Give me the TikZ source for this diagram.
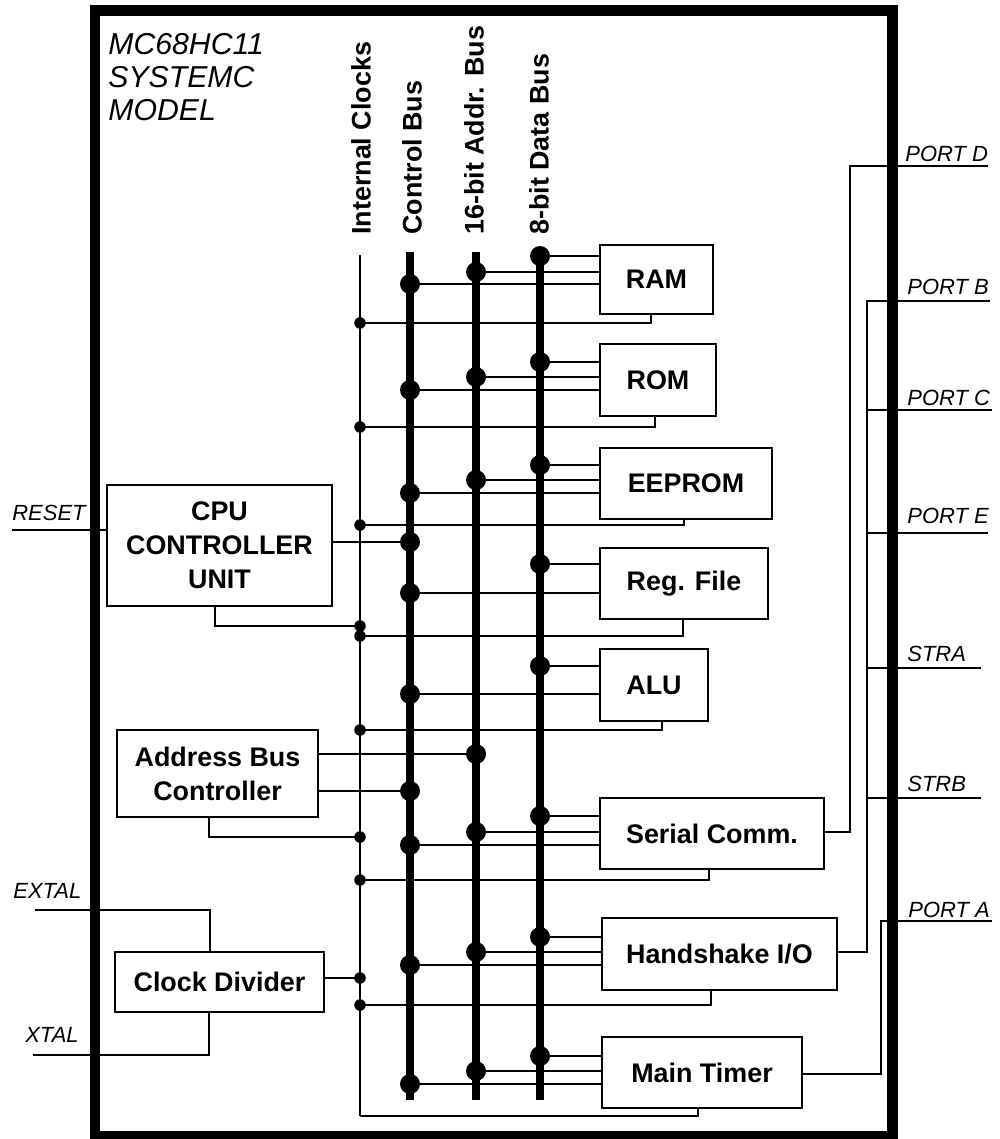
\documentclass[tikz,border=0pt]{standalone}
\usepackage{fontspec}
\setmainfont{Liberation Sans}
\begin{document}
\begin{tikzpicture}[x=0.02cm,y=-0.02cm,
  conn/.style={line width=0.85pt},
  wire/.style={line width=1.6pt},
  clkline/.style={line width=1.5pt},
  busline/.style={line width=5pt},
  frame/.style={line width=6.2pt},
  module/.style={draw, line width=0.9pt, inner sep=0pt, align=center,
    font=\bfseries\fontsize{15.3}{19.3}\selectfont},
  buslabel/.style={rotate=90, anchor=west, inner sep=0pt,
    font=\bfseries\fontsize{15.3}{18}\selectfont},
  sig/.style={anchor=base west, inner sep=0pt, font=\itshape\fontsize{12.5}{14}\selectfont},
  ttl/.style={anchor=base west, inner sep=0pt, font=\itshape\fontsize{17.2}{18.7}\selectfont},
  bigdot/.style={radius=0.2cm},
  smalldot/.style={radius=0.115cm}
]
\useasboundingbox (0,0) rectangle (1000,1139);

% title
\node[ttl] (t1) at (108,54) {MC68HC11};
\node[ttl] (t2) at (108,87) {SYSTEMC};
\node[ttl] (t3) at (108,120) {MODEL};

% bus labels
\node[buslabel] (lclk) at (361,235) {Internal Clocks};
\node[buslabel] (lctl) at (412,235) {Control Bus};
\node[buslabel] (ladr) at (474,235) {16-bit Addr. Bus};
\node[buslabel] (ldat) at (539,235) {8-bit Data Bus};

% modules
\node[module, minimum width=2.26cm, minimum height=1.38cm] (ram) at (656.5,279.5) {RAM};
\node[module, minimum width=2.32cm, minimum height=1.44cm] (rom) at (658,380) {ROM};
\node[module, minimum width=3.44cm, minimum height=1.42cm] (eeprom) at (686,483.5) {EEPROM};
\node[module, minimum width=3.36cm, minimum height=1.42cm] (regf) at (684,583.5) {Reg. File};
\node[module, minimum width=2.16cm, minimum height=1.44cm] (alu) at (654,685) {ALU};
\node[module, minimum width=4.48cm, minimum height=1.42cm] (ser) at (712,833.5) {Serial Comm.};
\node[module, minimum width=4.70cm, minimum height=1.44cm] (hs) at (719.5,954) {Handshake I/O};
\node[module, minimum width=4.00cm, minimum height=1.42cm] (tim) at (702,1072.5) {Main Timer};
\node[module, minimum width=4.50cm, minimum height=2.42cm] (cpu) at (219.5,545.5) {CPU\\CONTROLLER\\UNIT};
\node[module, minimum width=4.02cm, minimum height=1.74cm] (abc) at (217.5,773.5) {Address Bus\\Controller};
\node[module, minimum width=4.18cm, minimum height=1.20cm] (cdiv) at (219.5,982) {Clock Divider};

% buses
\coordinate (clkT) at (360,255); \coordinate (clkB) at (360,1116);
\coordinate (ctlT) at (410,252); \coordinate (ctlB) at (410,1100);
\coordinate (adrT) at (476,252); \coordinate (adrB) at (476,1100);
\coordinate (datT) at (540,256); \coordinate (datB) at (540,1100);
\draw[clkline] (clkT) -- (clkB);

% module to bus connections
\foreach \m/\yd/\ya/\yc in {ram/256/272/284, rom/362/377/390, eeprom/465/480/493,
    ser/816/832/845, hs/937/952/965, tim/1056/1071/1084}{
  \coordinate (\m-d) at (540,\yd);
  \coordinate (\m-a) at (476,\ya);
  \coordinate (\m-c) at (410,\yc);
  \draw[conn] (\m-d) -- (\m.west |- \m-d);
  \draw[conn] (\m-a) -- (\m.west |- \m-a);
  \draw[conn] (\m-c) -- (\m.west |- \m-c);
}
\foreach \m/\yd/\yc in {regf/564/593, alu/666/694}{
  \coordinate (\m-d) at (540,\yd);
  \coordinate (\m-c) at (410,\yc);
  \draw[conn] (\m-d) -- (\m.west |- \m-d);
  \draw[conn] (\m-c) -- (\m.west |- \m-c);
}
% clock connections
\foreach \m/\xk/\yk in {ram/651/323, rom/655/427, eeprom/684/525, regf/683/636,
    alu/662/730, ser/709/880, hs/711/1005}{
  \coordinate (\m-k) at (360,\yk);
  \coordinate (\m-kc) at (\xk,\yk);
  \draw[conn] (\m-k) -- (\m-kc) -- (\m.south -| \m-kc);
}
\coordinate (tim-kc) at (698,1116);
\draw[conn] (clkB) -- (tim-kc) -- (tim.south -| tim-kc);

% CPU
\coordinate (cpu-c) at (410,542);
\draw[conn] (cpu.east |- cpu-c) -- (cpu-c);
\coordinate (cpu-kc) at (215,626); \coordinate (cpu-k) at (360,626);
\draw[conn] (cpu.south -| cpu-kc) -- (cpu-kc) -- (cpu-k);
% Address bus controller
\coordinate (abc-a) at (476,754); \coordinate (abc-c) at (410,791);
\draw[conn] (abc.east |- abc-a) -- (abc-a);
\draw[conn] (abc.east |- abc-c) -- (abc-c);
\coordinate (abc-kc) at (209,837); \coordinate (abc-k) at (360,837);
\draw[conn] (abc.south -| abc-kc) -- (abc-kc) -- (abc-k);
% Clock divider
\coordinate (cdiv-k) at (360,978);
\draw[conn] (cdiv.east |- cdiv-k) -- (cdiv-k);

% thick buses
\draw[busline] (ctlT) -- (ctlB);
\draw[busline] (adrT) -- (adrB);
\draw[busline] (datT) -- (datB);

% dots
\foreach \m in {ram, rom, eeprom, ser, hs, tim}{
  \fill (\m-d) circle[bigdot]; \fill (\m-a) circle[bigdot]; \fill (\m-c) circle[bigdot];
}
\foreach \m in {regf, alu}{ \fill (\m-d) circle[bigdot]; \fill (\m-c) circle[bigdot]; }
\fill (cpu-c) circle[bigdot];
\fill (abc-a) circle[bigdot]; \fill (abc-c) circle[bigdot];
\foreach \m in {ram, rom, eeprom, regf, alu, ser, hs, cpu, abc, cdiv}{
  \fill (\m-k) circle[smalldot];
}

% external signals: left
\coordinate (resetL) at (12,530); \coordinate (resetF) at (95,530);
\draw[wire] (resetL) -- (resetF);
\draw[conn] (resetF) -- (cpu.west |- resetF);
\node[sig] (lreset) at (12,520) {RESET};

\coordinate (extL) at (35,910); \coordinate (extC) at (210,910);
\draw[wire] (extL) -- (extC) -- (cdiv.north -| extC);
\node[sig] (lextal) at (13,898) {EXTAL};
\coordinate (xtL) at (33,1055); \coordinate (xtC) at (209,1055);
\draw[wire] (xtL) -- (xtC) -- (cdiv.south -| xtC);
\node[sig] (lxtal) at (25,1042) {XTAL};

% external signals: right
\coordinate (serR) at (850,832); \coordinate (pDin) at (850,166);
\coordinate (pDf) at (892,166); \coordinate (pDo) at (988,166);
\draw[conn] (ser.east |- serR) -- (serR) -- (pDin) -- (pDf);
\draw[wire] (pDf) -- (pDo);
\node[sig] (lpd) at (905,161) {PORT D};

\coordinate (hsR) at (867,952); \coordinate (pBin) at (867,301);
\coordinate (pBf) at (892,301); \coordinate (pBo) at (990,301);
\draw[conn] (hs.east |- hsR) -- (hsR) -- (pBin) -- (pBf);
\draw[wire] (pBf) -- (pBo);
\node[sig] (lpb) at (907,294) {PORT B};
\foreach \n/\y/\xe/\yl/\txt in {C/410/992/405/PORT C, E/533/988/523/PORT E,
    STRA/668/981/661/STRA, STRB/798/981/791/STRB}{
  \coordinate (p\n in) at (867,\y);
  \coordinate (p\n f) at (892,\y);
  \coordinate (p\n o) at (\xe,\y);
  \draw[conn] (p\n in) -- (p\n f);
  \draw[wire] (p\n f) -- (p\n o);
  \node[sig] (l\n) at (907,\yl) {\txt};
}

\coordinate (timR) at (881,1074); \coordinate (pAin) at (881,921);
\coordinate (pAf) at (892,921); \coordinate (pAo) at (992,921);
\draw[conn] (tim.east |- timR) -- (timR) -- (pAin) -- (pAf);
\draw[wire] (pAf) -- (pAo);
\node[sig] (lpa) at (908,917) {PORT A};

% frame
\draw[frame] (95,10.5) rectangle (892.5,1136);
\end{tikzpicture}
\end{document}
